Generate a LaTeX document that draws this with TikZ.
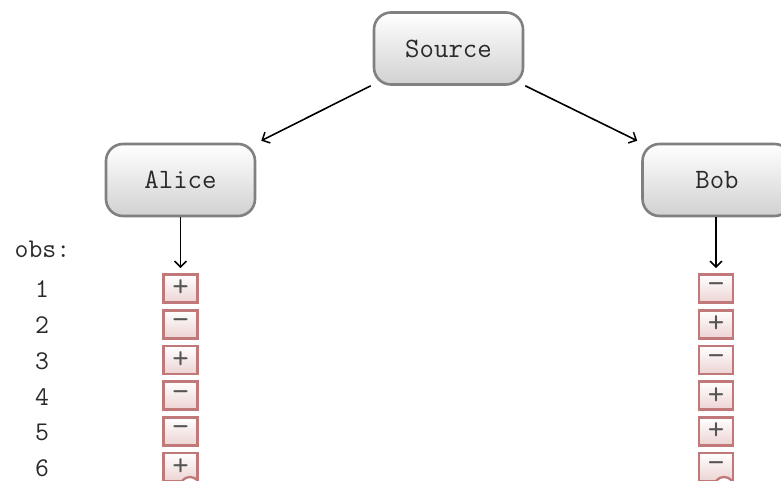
\documentclass[tikz,border=0pt]{standalone}
\usepackage{fontspec}
\usetikzlibrary{arrows.meta,shadings}
\definecolor{boxborder}{HTML}{808080}
\definecolor{signborder}{HTML}{C07878}
\definecolor{signfill}{HTML}{EDD3D3}
\definecolor{txt}{HTML}{2A2A2A}
\tikzset{
  party/.style={draw=boxborder, line width=2.6pt, rounded corners=17pt,
    top color=white, bottom color=black!18, minimum width=149pt, minimum height=72pt,
    inner sep=0pt, text=txt, font=\fontsize{28}{32}\selectfont\ttfamily},
  sign/.style={draw=signborder, line width=2.8pt, top color=white, bottom color=signfill,
    minimum width=34pt, minimum height=28pt, inner sep=0pt, text=txt!80,
    font=\fontsize{32}{34}\selectfont\ttfamily},
  lbl/.style={text=txt, font=\fontsize{27}{30}\selectfont\ttfamily, inner sep=0pt},
  arr/.style={-{Straight Barb[length=6pt,width=12pt,line width=1.5pt]}, line width=1.6pt, black}
}
\begin{document}
\begin{tikzpicture}[x=1pt,y=-1pt]
\useasboundingbox (0,0) rectangle (781,481);
\clip (0,0) rectangle (781,481);
\node[party] (src) at (448.5,48.5) {Source};
\node[party] (alice) at (180.5,180) {Alice};
\node[party] (bob) at (717,180) {Bob};
\node[lbl] (obs) at (42.5,249) {obs:};
\foreach \i/\a/\b in {1/+/−,2/−/+,3/+/−,4/−/+,5/−/+,6/+/−}{
  \pgfmathsetmacro{\yy}{288.5+35.7*(\i-1)}
  \node[sign] (a\i) at (180.5,\yy) {\a};
  \node[sign] (b\i) at (716,\yy) {\b};
  \node[lbl] (n\i) at (42,\yy+1) {\i};
}
\draw[signborder, line width=2.3pt, fill=white] (190,487) circle (10);
\draw[signborder, line width=2.3pt, fill=white] (724,487) circle (10);
\draw[arr] ([xshift=-2pt]src.south west) -- ([xshift=5pt,yshift=2pt]alice.north east);
\draw[arr] ([xshift=1pt]src.south east) -- ([xshift=-4pt,yshift=2pt]bob.north west);
\draw[arr] (a1 |- alice.south) -- ([yshift=5pt]a1.north);
\draw[arr] (b1 |- bob.south) -- ([yshift=5pt]b1.north);
\end{tikzpicture}
\end{document}
